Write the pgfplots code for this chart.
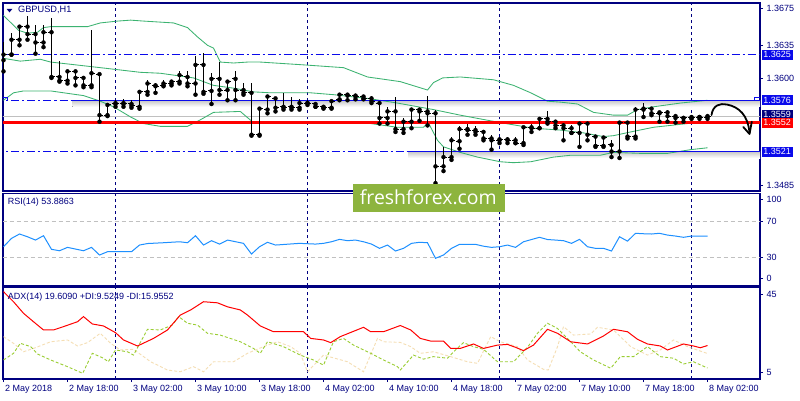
\documentclass[border=0pt]{standalone}
\usepackage{fontspec}
\setmainfont{Liberation Sans}
\newfontfamily\wmfont{Open Sans}
\usepackage{pgfplots}
\pgfplotsset{compat=1.18}
\usepackage{pgfplotstable}

\definecolor{mtnavy}{RGB}{0,0,128}
\definecolor{boxblue}{RGB}{10,10,235}
\definecolor{bbgreen}{RGB}{60,179,113}
\definecolor{rsiblue}{RGB}{30,144,255}
\definecolor{digreen}{RGB}{154,205,50}
\definecolor{diwheat}{RGB}{245,222,179}
\definecolor{wmgreen}{RGB}{141,180,62}
\definecolor{lvlgray}{RGB}{192,192,192}

% GBPUSD H1 bars, 2 May 10:00 .. 8 May 02:00
\pgfplotstableread{
i o h l c
0 1.3619 1.3639 1.3607 1.3625
1 1.3625 1.3648 1.3625 1.3641
2 1.3641 1.3657 1.3635 1.3655
3 1.3655 1.3666 1.3641 1.3647
4 1.3647 1.3657 1.3626 1.3638
5 1.3638 1.3657 1.3633 1.3649
6 1.3649 1.3664 1.3600 1.3601
7 1.3601 1.3618 1.3596 1.3597
8 1.3597 1.3608 1.3594 1.3607
9 1.3607 1.3608 1.3592 1.3600
10 1.3600 1.3601 1.3590 1.3592
11 1.3592 1.3651 1.3590 1.3605
12 1.3604 1.3605 1.3553 1.3560
13 1.3560 1.3573 1.3559 1.3571
14 1.3572 1.3576 1.3569 1.3573
15 1.3573 1.3577 1.3569 1.3572
16 1.3572 1.3576 1.3568 1.3570
17 1.3569 1.3587 1.3567 1.3585
18 1.3585 1.3598 1.3582 1.3594
19 1.3592 1.3595 1.3584 1.3591
20 1.3592 1.3598 1.3591 1.3594
21 1.3594 1.3597 1.3592 1.3596
22 1.3596 1.3607 1.3594 1.3603
23 1.3601 1.3607 1.3591 1.3594
24 1.3594 1.3623 1.3582 1.3614
25 1.3614 1.3627 1.3583 1.3585
26 1.3586 1.3605 1.3572 1.3599
27 1.3599 1.3617 1.3582 1.3587
28 1.3587 1.3598 1.3576 1.3596
29 1.3599 1.3607 1.3576 1.3587
30 1.3587 1.3594 1.3582 1.3584
31 1.3584 1.3594 1.3538 1.3539
32 1.3539 1.3567 1.3538 1.3567
33 1.3566 1.3582 1.3562 1.3580
34 1.3578 1.3580 1.3564 1.3568
35 1.3569 1.3584 1.3566 1.3568
36 1.3569 1.3580 1.3566 1.3568
37 1.3568 1.3577 1.3566 1.3573
38 1.3573 1.3576 1.3571 1.3573
39 1.3572 1.3573 1.3569 1.3569
40 1.3569 1.3571 1.3567 1.3568
41 1.3568 1.3576 1.3567 1.3575
42 1.3577 1.3583 1.3576 1.3582
43 1.3582 1.3584 1.3576 1.3581
44 1.3581 1.3582 1.3577 1.3580
45 1.3580 1.3582 1.3577 1.3578
46 1.3578 1.3581 1.3573 1.3575
47 1.3573 1.3574 1.3551 1.3557
48 1.3557 1.3569 1.3551 1.3564
49 1.3564 1.3580 1.3542 1.3545
50 1.3545 1.3557 1.3541 1.3553
51 1.3553 1.3566 1.3546 1.3566
52 1.3566 1.3568 1.3554 1.3564
53 1.3564 1.3581 1.3549 1.3562
54 1.3562 1.3566 1.3487 1.3505
55 1.3505 1.3526 1.3500 1.3515
56 1.3515 1.3537 1.3512 1.3533
57 1.3532 1.3548 1.3524 1.3545
58 1.3545 1.3551 1.3539 1.3544
59 1.3544 1.3548 1.3539 1.3542
60 1.3542 1.3544 1.3533 1.3535
61 1.3535 1.3539 1.3523 1.3533
62 1.3533 1.3537 1.3530 1.3534
63 1.3534 1.3537 1.3530 1.3533
64 1.3533 1.3537 1.3530 1.3530
65 1.3530 1.3548 1.3528 1.3547
66 1.3547 1.3551 1.3542 1.3546
67 1.3546 1.3557 1.3546 1.3556
68 1.3556 1.3564 1.3551 1.3553
69 1.3553 1.3554 1.3546 1.3549
70 1.3549 1.3552 1.3533 1.3546
71 1.3546 1.3549 1.3541 1.3541
72 1.3541 1.3553 1.3526 1.3551
73 1.3551 1.3553 1.3533 1.3539
74 1.3537 1.3537 1.3526 1.3527
75 1.3527 1.3537 1.3526 1.3536
76 1.3528 1.3533 1.3515 1.3521
77 1.3521 1.3553 1.3514 1.3552
78 1.3552 1.3553 1.3535 1.3537
79 1.3537 1.3569 1.3535 1.3566
80 1.3566 1.3573 1.3558 1.3567
81 1.3567 1.3567 1.3560 1.3562
82 1.3562 1.3565 1.3553 1.3563
83 1.3563 1.3566 1.3553 1.3559
84 1.3559 1.3560 1.3552 1.3557
85 1.3557 1.3559 1.3553 1.3557
86 1.3557 1.3559 1.3556 1.3558
87 1.3558 1.3559 1.3556 1.3558
88 1.3558 1.3560 1.3556 1.3559
}\ohlc

\pgfplotsset{
  mtpanel/.style={
    scale only axis, width=757pt,
    xmin=-0.0625, xmax=94.5625,
    axis line style={mtnavy, line width=1.2pt},
    tick style={mtnavy, line width=0.8pt},
    tick align=outside, major tick length=3pt,
    ytick pos=right, yticklabel pos=right,
    every tick label/.append style={font=\fontsize{9}{10}\selectfont, text=mtnavy},
    x grid style={mtnavy, line width=0.9pt, dash pattern=on 3pt off 3pt},
  },
  lvl/.style={boxblue, line width=0.9pt, dash pattern=on 8pt off 3pt on 2pt off 3pt},
}
\tikzset{
  pbox/.style={anchor=west, xshift=1.6pt, text=white, inner xsep=1.6pt, inner ysep=0pt,
    minimum height=10pt, font=\fontsize{9}{10}\selectfont},
}

\begin{document}
\begin{tikzpicture}
\fill[white] (0,0) rectangle (800pt,400pt);
\useasboundingbox (0,0) rectangle (800pt,400pt);

% ---------------- price panel
\begin{axis}[mtpanel, at={(3pt,209pt)}, anchor=south west, height=188pt,
  ymin=1.34786, ymax=1.36804,
  ytick={1.3485,1.3600,1.3635,1.3675},
  yticklabels={1.3485,1.3600,1.3635,1.3675},
  xtick={14,38,62,86}, xticklabels={}, xmajorgrids, xtick style={draw=none}]
  % shadows under the drawn lines
  \fill[top color=black!22, bottom color=white] (axis cs:8.6,1.3576) rectangle (axis cs:94.6,1.3569);
  \fill[top color=black!22, bottom color=white] (axis cs:50.6,1.3521) rectangle (axis cs:94.6,1.3514);
  \addplot[lvlgray, line width=0.8pt] coordinates {(-1,1.3559) (95,1.3559)};
  % Bollinger bands (20)
  \addplot[bbgreen, line width=0.85pt] coordinates {(0,1.3667) (1.9,1.3651) (3,1.3648) (4.25,1.3649) (5,1.3654) (5.9,1.3655) (10.5,1.3655) (12.1,1.3659) (14.25,1.3661) (15.9,1.3662) (17.5,1.3661) (21.25,1.3659) (23,1.3654) (24.25,1.3644) (25.5,1.3635) (26.25,1.3632) (27.1,1.3617) (28.75,1.3616) (30.5,1.3617) (32.1,1.3617) (37.5,1.3614) (42.5,1.3611) (45.5,1.3601) (49.6,1.3596) (53,1.3587) (53.75,1.3595) (54.9,1.3600) (57.1,1.3601) (61.25,1.3598) (63.75,1.3592) (65.9,1.3584) (68,1.3575) (69.6,1.3574) (71.75,1.3572) (73.75,1.3563) (76.25,1.3560) (78,1.3560) (79.25,1.3566) (81.25,1.3569) (84.6,1.3573) (88,1.3576)};
  \addplot[bbgreen, line width=0.85pt] coordinates {(0,1.3621) (2.1,1.3618) (4.6,1.3620) (5.9,1.3617) (8,1.3615) (12.1,1.3611) (17.1,1.3606) (19.6,1.3605) (23.75,1.3600) (26.25,1.3592) (28.75,1.3589) (31.25,1.3585) (33.4,1.3584) (38.4,1.3584) (41.25,1.3582) (45.5,1.3578) (49.25,1.3573) (53.75,1.3566) (57.1,1.3560) (62.1,1.3552) (66.25,1.3546) (69.6,1.3544) (72.5,1.3541) (75,1.3537) (76.25,1.3538) (78.4,1.3542) (81.25,1.3547) (85.5,1.3551) (88,1.3552)};
  \addplot[bbgreen, line width=0.85pt] coordinates {(0,1.3576) (1.25,1.3584) (2.5,1.3586) (5.9,1.3586) (10,1.3581) (12.1,1.3575) (13.75,1.3569) (15.9,1.3558) (17.5,1.3551) (19.6,1.3548) (23,1.3548) (24.6,1.3555) (26.25,1.3563) (29.6,1.3564) (31.1,1.3553) (32.1,1.3552) (45.9,1.3551) (49.25,1.3547) (52.5,1.3547) (53.1,1.3552) (54.25,1.3533) (55,1.3526) (57.1,1.3520) (59.25,1.3515) (62.1,1.3510) (63.75,1.3509) (65.9,1.3510) (68.75,1.3515) (70.9,1.3517) (74.6,1.3517) (76.25,1.3520) (79.6,1.3519) (83,1.3519) (85.9,1.3523) (88,1.3525)};
  % levels
  \addplot[lvl] coordinates {(-1,1.3625) (95,1.3625)};
  \addplot[lvl] coordinates {(-1,1.3576) (8.4,1.3576)};
  \addplot[lvl] coordinates {(-1,1.3521) (50.4,1.3521)};
  \addplot[boxblue, line width=1pt] coordinates {(8.4,1.3576) (95,1.3576)};
  \addplot[boxblue, line width=1pt] coordinates {(50.4,1.3521) (95,1.3521)};
  \addplot[boxblue, line width=1pt] coordinates {(-0.06,1.3579) (0.45,1.3579) (0.45,1.3576)};
  \addplot[boxblue, line width=1pt] coordinates {(93.9,1.3576) (93.9,1.3579) (94.6,1.3579)};
  \addplot[red, line width=2.4pt] coordinates {(-1,1.3552) (95,1.3552)};
  % OHLC bars
  \addplot[black, only marks, no markers, error bars/.cd, y dir=plus, y explicit,
    error mark=none, error bar style={black, line width=1.25pt}]
    table[x=i, y=l, y error expr=\thisrow{h}-\thisrow{l}] {\ohlc};
  \addplot[black, only marks, no markers, error bars/.cd, x dir=minus, x fixed=0.42,
    error mark=none, error bar style={black, line width=1pt}]
    table[x=i, y=o] {\ohlc};
  \addplot[black, only marks, no markers, error bars/.cd, x dir=plus, x fixed=0.42,
    error mark=none, error bar style={black, line width=1pt}]
    table[x=i, y=c] {\ohlc};
  \coordinate (p1625) at (axis cs:94.5625,1.3625);
  \coordinate (p1576) at (axis cs:94.5625,1.3576);
  \coordinate (p1559) at (axis cs:94.5625,1.3559);
  \coordinate (p1552) at (axis cs:94.5625,1.3552);
  \coordinate (p1521) at (axis cs:94.5625,1.3521);
\end{axis}

% ---------------- RSI panel
\begin{axis}[mtpanel, at={(3pt,114pt)}, anchor=south west, height=92.5pt,
  ymin=-2.2, ymax=101.7,
  ytick={6.7,30,70,95.5}, yticklabels={0,30,70,100},
  xtick={14,38,62,86}, xticklabels={}, xmajorgrids, xtick style={draw=none}]
  \addplot[lvlgray, line width=0.8pt, dash pattern=on 4pt off 3pt] coordinates {(-1,70) (95,70)};
  \addplot[lvlgray, line width=0.8pt, dash pattern=on 4pt off 3pt] coordinates {(-1,30) (95,30)};
  \addplot[rsiblue, line width=1pt] coordinates {(0,41.9) (1,51.3) (2,56.2) (3,53.1) (4,49.4) (5,54.3) (6,39.0) (7,37.4) (8,41.2) (10,37.4) (11,41.2) (12,32.6) (13,36.3) (16,36.3) (17,43.8) (18,45.5) (20,46.4) (22,47.5) (23,46.4) (24,54.3) (25,43.8) (26,48.7) (27,44.9) (28,49.4) (30,45.7) (31,33.7) (32,41.9) (33,46.9) (34,43.8) (37,45.7) (39,44.9) (40,45.7) (41,47.5) (42,50.2) (43,48.7) (44,49.4) (45,47.5) (46,44.9) (47,40.1) (48,43.8) (49,37.1) (50,40.1) (51,45.7) (52,46.9) (53,46.4) (54,28.9) (55,32.6) (56,40.1) (57,44.6) (59,44.6) (60,42.5) (61,41.2) (62,41.9) (63,43.8) (64,41.2) (65,47.5) (66,50.0) (67,52.5) (68,50.0) (69,49.4) (70,48.7) (71,45.7) (72,50.2) (73,41.9) (74,40.1) (75,40.1) (76,37.1) (77,53.1) (78,48.2) (79,57.0) (80,56.5) (81,56.2) (82,57.0) (83,55.0) (84,53.9) (85,52.5) (86,53.9) (87,53.9) (88,53.9)};
\end{axis}

% ---------------- ADX panel
\begin{axis}[mtpanel, at={(3pt,21pt)}, anchor=south west, height=91.3pt,
  ymin=4.55, ymax=45.6,
  ytick={7.4,42.75}, yticklabels={5,45},
  xtick={0,8,...,88}, xtick pos=bottom,
  xticklabels={2 May 2018,2 May 18:00,3 May 02:00,3 May 10:00,3 May 18:00,4 May 02:00,4 May 10:00,4 May 18:00,7 May 02:00,7 May 10:00,7 May 18:00,8 May 02:00},
  xticklabel style={anchor=north west, xshift=-2pt, yshift=0pt},
  extra x ticks={14,38,62,86}, extra x tick labels={},
  extra x tick style={grid=major, tick style={draw=none}}]
  \addplot[diwheat, line width=0.9pt, dash pattern=on 3pt off 2pt] coordinates {(0,23.6) (1.25,20.6) (2.5,16.8) (3.75,18.3) (5.9,21.3) (8,22.1) (9.25,19.4) (10.5,20.9) (12.1,25.1) (13.4,20.6) (14.6,17.6) (16.25,17.9) (18.4,12.3) (20.5,8.6) (22.1,7.8) (23.75,10.1) (25,7.8) (26.25,12.3) (28.75,12.3) (30.5,16.1) (32.5,19.1) (34.25,21.3) (35.9,19.1) (37.1,16.1) (38,7.8) (40,15.3) (43,12.3) (45,7.8) (46.75,22.8) (47.5,21.3) (49.6,21.0) (50.9,19.1) (52.1,16.1) (53.75,16.8) (55.9,14.6) (58,12.3) (59.25,11.6) (60.9,23.6) (62.1,21.3) (64.25,19.1) (65.5,13.1) (67.5,8.9) (68.1,8.6) (69.25,19.1) (70,28.1) (71.25,24.3) (73.4,24.8) (74.25,27.8) (76.25,26.6) (78.4,19.1) (80.5,15.3) (82.1,17.6) (83.75,22.1) (85.5,19.1) (88,16.0)};
  \addplot[digreen, line width=0.9pt, dash pattern=on 3pt off 2pt] coordinates {(0,13.1) (1.25,16.1) (2.1,20.6) (3.4,19.1) (4.25,15.8) (5.9,13.1) (8,10.1) (9.9,7.1) (11.1,16.1) (12.5,13.9) (13.1,12.3) (14,17.6) (15.5,16.8) (16.25,15.3) (18,26.9) (19.6,26.6) (21.1,28.8) (21.9,32.6) (23,29.6) (24.25,28.8) (25.5,25.1) (27.1,24.3) (29.6,21.3) (31.25,18.3) (32.1,16.1) (33,21.3) (35,19.1) (37.1,15.3) (38.75,13.1) (40,10.8) (41.25,21.3) (42.5,22.8) (43.75,19.8) (45.9,16.1) (47.5,13.1) (49.25,10.1) (49.6,8.6) (51.25,15.3) (52.5,13.5) (53.75,14.6) (55.5,13.9) (56.5,17.6) (57.5,20.9) (58.75,19.1) (60,17.9) (61.75,12.3) (63.75,12.3) (65.5,18.8) (66.75,25.1) (68,29.6) (69.25,27.3) (70.9,21.3) (72.1,16.8) (73.75,13.1) (75.9,9.4) (77.1,14.6) (78.75,14.6) (80.5,19.1) (82.1,14.6) (83.75,13.9) (85,11.3) (86.25,12.3) (88,9.5)};
  \addplot[red, line width=1pt] coordinates {(0,43.8) (1.25,39.3) (2.5,34.1) (3.75,30.3) (5,26.6) (6.25,26.6) (7.5,28.1) (9.25,30.3) (10,32.6) (11.1,29.3) (12.5,28.4) (14,25.4) (15,22.1) (16.75,19.4) (18.75,22.8) (20.5,26.6) (22.1,33.3) (23.4,35.6) (25,39.3) (26.75,38.8) (28,37.0) (29.6,35.6) (30.5,33.3) (32.1,28.4) (33.75,25.8) (37.5,25.8) (38.4,22.8) (40,22.1) (40.9,20.9) (42.1,23.6) (45,27.8) (45.9,25.8) (47.5,25.8) (49.6,28.6) (50.9,26.6) (52.1,22.8) (53.4,21.6) (55,21.6) (55.9,18.3) (57.1,18.3) (58.75,20.3) (60,18.3) (61.75,19.8) (63,20.1) (64,18.8) (65,17.3) (66.25,19.8) (68,26.9) (69.25,25.1) (70.9,21.3) (73,20.3) (75,23.9) (76.25,26.9) (78,25.8) (79.25,22.4) (80.5,20.3) (82.1,19.4) (83,17.6) (85,20.3) (86.25,19.4) (87.1,18.6) (88,19.6)};
\end{axis}

% ---------------- labels
\fill[mtnavy] (6.7pt,391pt) -- (12.3pt,391pt) -- (9.5pt,387.6pt) -- cycle;
\node[anchor=west, inner sep=0pt, text=mtnavy, font=\fontsize{9.2}{10}\selectfont] at (18pt,390pt) {GBPUSD,H1};
\node[anchor=west, inner sep=0pt, text=mtnavy, font=\fontsize{9}{10}\selectfont] at (7.7pt,198.3pt) {RSI(14) 53.8863};
\node[anchor=west, inner sep=0pt, text=mtnavy, font=\fontsize{9}{10}\selectfont] at (7.7pt,103.3pt) {ADX(14) 19.6090 +DI:9.5249 -DI:15.9552};

\node[pbox, fill=boxblue] at (p1625) {1.3625};
\node[pbox, fill=boxblue] at (p1576) {1.3576};
\node[pbox, fill=mtnavy, minimum height=9pt, yshift=1.5pt] at (p1559) {1.3559};
\node[pbox, fill=red] at (p1552) {1.3552};
\node[pbox, fill=boxblue] at (p1521) {1.3521};

% hand-drawn arrow
\draw[line width=1.8pt, line cap=round] (711.5pt,285pt) .. controls (713pt,295pt) and (720pt,297pt) .. (727pt,295.5pt) .. controls (739pt,293pt) and (748pt,285pt) .. (749.5pt,267pt);
\draw[line width=1.8pt, line cap=round, line join=round] (743.3pt,273pt) -- (749.5pt,266pt) -- (751.8pt,278.3pt);

% watermark
\fill[wmgreen] (353.3pt,188pt) rectangle (505pt,216pt);
\node[anchor=base, inner sep=0pt, text=white, font=\wmfont\fontsize{19.4}{20}\selectfont] at (428.3pt,195.3pt) {freshforex.com};
\end{tikzpicture}
\end{document}
